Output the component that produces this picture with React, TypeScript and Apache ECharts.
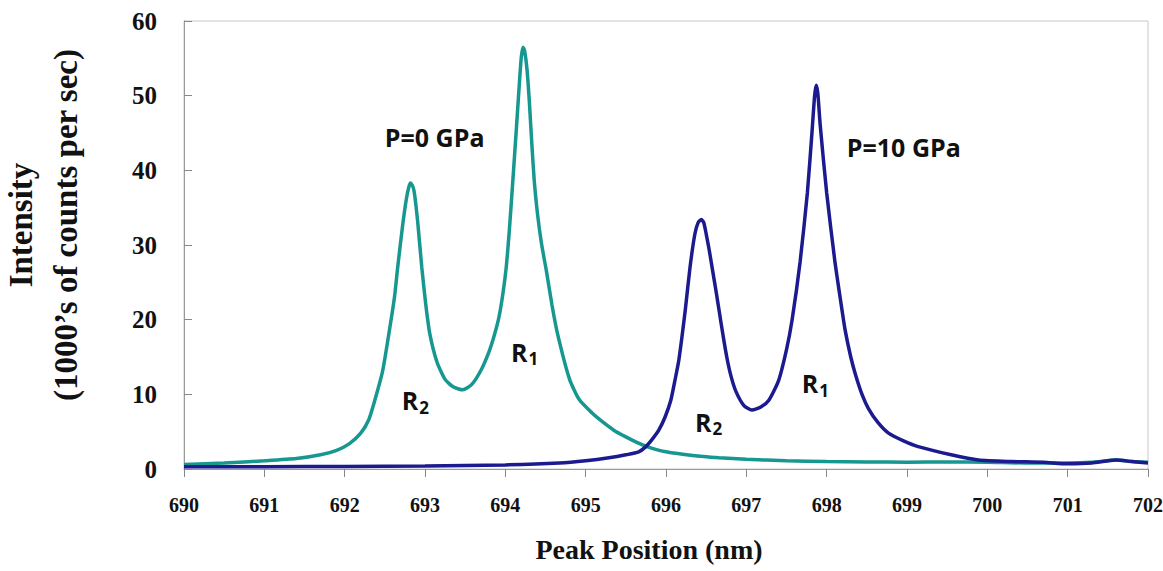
import React, { useEffect, useRef } from "react";
import * as echarts from "echarts";

const xTicks = [690, 691, 692, 693, 694, 695, 696, 697, 698, 699, 700, 701, 702];

const tealX = [
  690.0, 690.5, 691.0, 691.4, 691.7, 691.9, 692.06, 692.2, 692.3, 692.37, 692.47, 692.55, 692.62, 692.66, 692.72,
  692.77, 692.8, 692.82, 692.85, 692.87, 692.91, 692.96, 693.01, 693.06, 693.15, 693.25, 693.35, 693.47, 693.58, 693.7,
  693.8, 693.86, 693.92, 693.97, 694.01, 694.05, 694.09, 694.14, 694.18, 694.2, 694.22, 694.24, 694.27, 694.3, 694.33,
  694.36, 694.4, 694.45, 694.51, 694.58, 694.65, 694.8, 694.92, 695.08, 695.2, 695.35, 695.5, 695.65, 695.79, 696.0,
  696.33, 696.66, 697.0, 697.5, 698.0, 698.5, 699.0, 699.5, 700.0, 700.5, 701.0, 701.3, 701.6, 701.8, 702.0,
];
const tealY = [
  0.6, 0.8, 1.1, 1.4, 1.9, 2.5, 3.4, 4.8, 6.6, 9.0, 13.0, 18.1, 23.0, 27.0, 32.5,
  36.3, 37.8, 38.3, 37.8, 36.8, 33.0, 27.0, 22.0, 18.1, 14.3, 12.0, 11.0, 10.6, 11.3, 13.3,
  15.8, 17.8, 20.3, 23.5, 26.9, 32.0, 38.1, 46.0, 52.5, 55.3, 56.5, 56.0, 53.5, 49.0, 43.5,
  38.6, 34.2, 30.2, 26.6, 22.0, 18.1, 12.0, 9.3, 7.5, 6.4, 5.2, 4.3, 3.5, 2.9, 2.3,
  1.8, 1.5, 1.3, 1.1, 1.0, 0.95, 0.9, 0.95, 0.9, 0.8, 0.8, 0.9, 1.2, 1.0, 0.9,
];

const navyX = [
  690.0, 691.0, 692.0, 693.0, 694.0, 694.67, 695.0, 695.29, 695.5, 695.66, 695.75, 695.83, 695.91, 695.99,
  696.06, 696.11, 696.16, 696.24, 696.3, 696.36, 696.4, 696.44, 696.47, 696.5, 696.54, 696.58, 696.62, 696.66,
  696.71, 696.76, 696.81, 696.87, 696.97, 697.07, 697.18, 697.28, 697.4, 697.5, 697.57, 697.67, 697.76, 697.82,
  697.85, 697.87, 697.89, 697.92, 698.0, 698.1, 698.17, 698.23, 698.3, 698.36, 698.44, 698.52, 698.64, 698.77,
  698.95, 699.14, 699.55, 699.89, 700.3, 700.7, 701.0, 701.3, 701.6, 701.8, 702.0,
];
const navyY = [
  0.3, 0.3, 0.35, 0.4, 0.55, 0.8, 1.1, 1.5, 1.9, 2.3, 3.0, 4.0, 5.2, 7.0,
  9.2, 11.8, 14.6, 21.3, 27.1, 31.5, 33.0, 33.4, 33.0, 31.5, 29.2, 26.6, 24.0, 21.3,
  17.9, 14.8, 12.4, 10.4, 8.5, 7.9, 8.3, 9.2, 11.8, 16.0, 20.0, 27.8, 37.0, 45.5,
  50.0, 51.4, 50.3, 46.0, 37.0, 28.0, 22.8, 18.6, 15.0, 12.6, 10.0, 8.1, 6.2, 4.8,
  3.8, 3.0, 1.9, 1.2, 1.0, 0.9, 0.7, 0.8, 1.2, 1.0, 0.8,
];

const tealLabels = [
  { text: "P=0 GPa", x: 693.12, y: 44.5 },
  { text: "R1", x: 694.24, y: 15.7 },
  { text: "R2", x: 692.88, y: 9.2 },
];
const navyLabels = [
  { text: "P=10 GPa", x: 698.96, y: 43.1 },
  { text: "R1", x: 697.86, y: 11.5 },
  { text: "R2", x: 696.53, y: 6.3 },
];

const TEAL = "#16978f";
const NAVY = "#1b1b8f";
const SERIF = "'Liberation Serif', 'Times New Roman', serif";
const SANS = "'Open Sans', 'Noto Sans', sans-serif";

function toPairs(xs: number[], ys: number[]) {
  return xs.map((x, i) => [x, ys[i]]);
}

function labelPoints(items: { text: string; x: number; y: number }[]) {
  return items.map((it) => {
    const m = /^R(\d)$/.exec(it.text);
    const formatted = m ? `{r|R}{s|${m[1]}}` : `{p|${it.text}}`;
    return {
      name: it.text,
      coord: [it.x, it.y],
      symbol: "circle",
      symbolSize: 1,
      itemStyle: { color: "rgba(0,0,0,0)" },
      label: {
        show: true,
        position: "inside",
        formatter: formatted,
        rich: {
          p: { fontFamily: SANS, fontWeight: "bold", fontSize: 25, color: "#111", verticalAlign: "bottom" },
          r: { fontFamily: SANS, fontWeight: "bold", fontSize: 25, color: "#111", verticalAlign: "bottom" },
          s: { fontFamily: SANS, fontWeight: "bold", fontSize: 17, color: "#111", verticalAlign: "bottom", padding: [0, 0, -3, 1] },
        },
      },
    };
  });
}

export default function App() {
  const ref = useRef<HTMLDivElement>(null);
  useEffect(() => {
    if (!ref.current) return;
    const chart = echarts.init(ref.current, undefined, { renderer: "svg" });
    chart.setOption({
      animation: false,
      backgroundColor: "#ffffff",
      grid: {
        left: 184,
        right: 15,
        top: 21,
        bottom: 102,
        show: true,
        borderColor: "#c8c8c8",
        borderWidth: 1,
        containLabel: false,
        outerBoundsMode: "none",
      },
      xAxis: {
        type: "value",
        min: xTicks[0],
        max: xTicks[xTicks.length - 1],
        interval: 1,
        name: "Peak Position (nm)",
        nameLocation: "middle",
        nameGap: 66,
        nameTextStyle: { fontFamily: SERIF, fontWeight: "bold", fontSize: 28, color: "#111", padding: [0, 34, 0, 0] },
        axisLine: { show: true, lineStyle: { color: "#999", width: 1 } },
        axisTick: { show: true, inside: false, length: 8, lineStyle: { color: "#888" } },
        axisLabel: { fontFamily: SERIF, fontWeight: "bold", fontSize: 20, color: "#111", margin: 26 },
        splitLine: { show: false },
      },
      yAxis: {
        type: "value",
        min: 0,
        max: 60,
        interval: 10,
        name: "Intensity\n(1000\u2019s of counts per sec)",
        nameLocation: "middle",
        nameRotate: 90,
        nameGap: 96,
        nameTextStyle: {
          fontFamily: SERIF,
          fontWeight: "bold",
          fontSize: 33,
          lineHeight: 45,
          color: "#111",
          padding: [0, 0, 0, 40],
        },
        axisLine: { show: true, lineStyle: { color: "#999", width: 1 } },
        axisTick: { show: true, inside: true, length: 8, lineStyle: { color: "#888" } },
        axisLabel: { fontFamily: SERIF, fontWeight: "bold", fontSize: 25, color: "#111", margin: 27 },
        splitLine: { show: false },
      },
      series: [
        {
          name: "P=0 GPa",
          type: "line",
          data: toPairs(tealX, tealY),
          smooth: 0.2,
          showSymbol: false,
          lineStyle: { color: TEAL, width: 3.5 },
          itemStyle: { color: TEAL },
          z: 2,
          markPoint: { silent: true, data: labelPoints(tealLabels) },
        },
        {
          name: "P=10 GPa",
          type: "line",
          data: toPairs(navyX, navyY),
          smooth: 0.2,
          showSymbol: false,
          lineStyle: { color: NAVY, width: 3.5 },
          itemStyle: { color: NAVY },
          z: 3,
          markPoint: { silent: true, data: labelPoints(navyLabels) },
        },
      ],
    });
    return () => chart.dispose();
  }, []);
  return (
    <div
      ref={ref}
      style={{ position: "fixed", left: 0, top: 0, width: "1163px", height: "571px", background: "#fff" }}
    />
  );
}
